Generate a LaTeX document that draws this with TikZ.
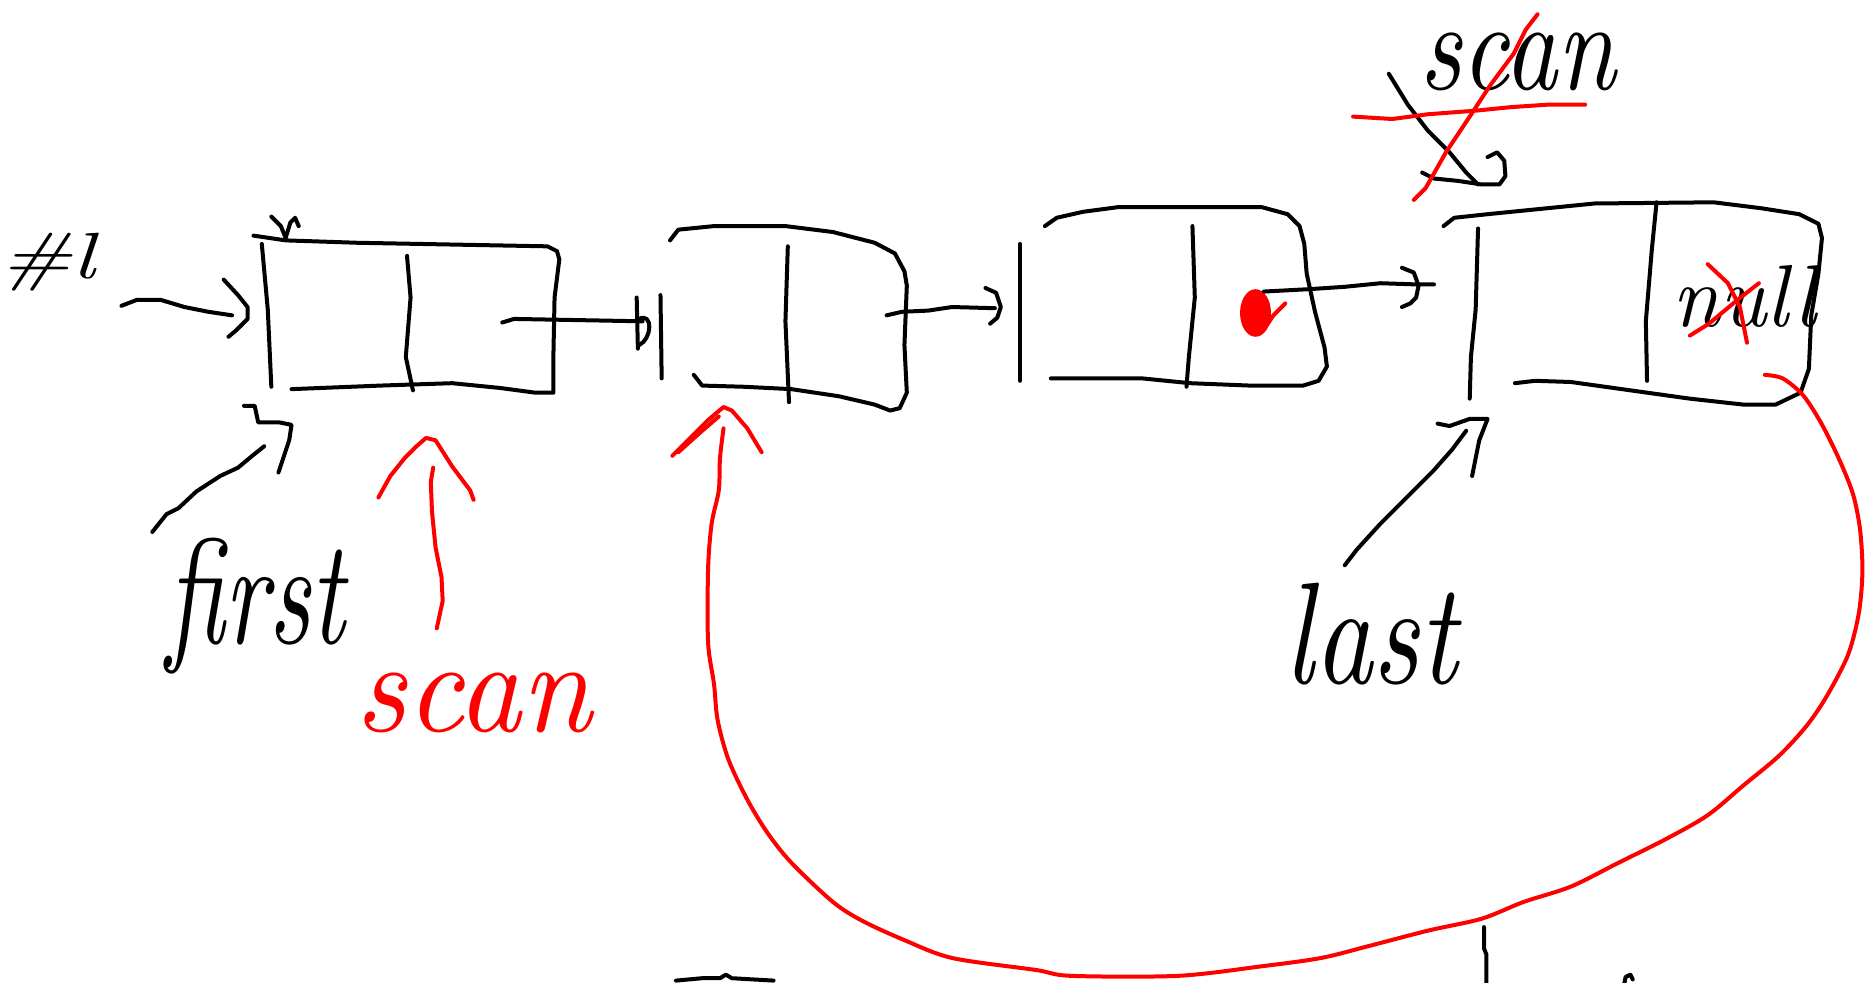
\documentclass[tikz,border=0pt]{standalone}
\usepackage{graphicx}
\tikzset{
  ink/.style={line width=2pt, line cap=round, line join=round},
  redink/.style={ink, draw=red},
  hand/.style={inner sep=0pt, outer sep=0pt},
}
% a word stretched to a given width and total height
\newcommand\handword[3]{\resizebox*{#1}{#2}{\itshape #3}}
\begin{document}
\begin{tikzpicture}[x=0.595pt,y=-0.595pt]
\useasboundingbox (0,0) rectangle (1568,826);

% ---- labels ----
\node[hand] (hl)    at (40,220)   {\handword{47pt}{29pt}{\#l}};
\node[hand] (first) at (215,509)  {\handword{89pt}{68pt}{first}};
\node[hand,text=red] (scanA) at (398,591) {\handword{118pt}{30pt}{scan}};
\node[hand] (scanB) at (1275,52)  {\handword{98pt}{29pt}{scan}};
\node[hand] (last)  at (1152,533) {\handword{86pt}{51pt}{last}};
\node[hand] (nul)   at (1466,249) {\handword{72pt}{31pt}{null}};

% ---- cell 1 ----
\draw[ink] (213,198) -- (240,202) -- (300,204) -- (460,207) -- (468,211) -- (470,218)
  -- (466,250) -- (465,300) -- (465,330) -- (450,330) -- (420,326) -- (380,322)
  -- (320,324) -- (245,327);
\draw[ink] (220,205) -- (225,260) -- (228,325);
\draw[ink] (342,215) -- (345,250) -- (341,300) -- (347,328);
\draw[ink] (228,182) -- (236,190) -- (240,200) -- (244,187) -- (248,183) -- (251,190);

% ---- cell 2 ----
\draw[ink] (555,248) -- (556,318);
\draw[ink] (563,202) -- (570,193) -- (600,190) -- (660,190) -- (700,195) -- (735,204)
  -- (752,213) -- (760,228) -- (762,240) -- (760,290) -- (762,330) -- (756,343)
  -- (748,345) -- (735,340) -- (705,333) -- (665,327) -- (625,325) -- (590,324) -- (583,315);
\draw[ink] (662,207) -- (660,270) -- (663,338);

% ---- cell 3 ----
\draw[ink] (857,205) -- (857,320);
\draw[ink] (878,190) -- (888,183) -- (910,178) -- (940,174) -- (1060,174) -- (1082,180)
  -- (1092,190) -- (1096,205) -- (1098,230) -- (1105,262) -- (1113,292) -- (1115,308)
  -- (1108,320) -- (1095,324) -- (1050,324) -- (1000,322) -- (960,318) -- (883,318);
\draw[ink] (1002,190) -- (1004,250) -- (999,300) -- (997,325);
\fill[red] (1055,263) ellipse (13 and 20);
\draw[redink] (1062,277) -- (1070,265) -- (1080,255);

% ---- cell 4 ----
\draw[ink] (1242,192) -- (1240,260) -- (1236,300) -- (1235,335);
\draw[ink] (1213,190) -- (1222,183) -- (1250,180) -- (1300,175) -- (1340,171) -- (1440,170)
  -- (1480,175) -- (1512,180) -- (1528,188) -- (1531,200) -- (1528,230) -- (1522,265)
  -- (1520,310) -- (1513,330) -- (1492,340) -- (1465,340) -- (1420,335) -- (1370,328)
  -- (1320,321) -- (1290,320) -- (1273,322);
\draw[ink] (1392,170) -- (1388,210) -- (1383,270) -- (1384,320);
\draw[redink] (1435,222) -- (1452,238) -- (1462,258) -- (1468,288);
\draw[redink] (1420,282) -- (1436,272) -- (1460,252) -- (1478,238);

% ---- pointers between cells ----
\coordinate (p1s) at (422,271); \coordinate (p1e) at (540,270);
\draw[ink] (p1s) -- (432,268) -- (p1e);
\draw[ink] (535,250) -- (536,293);
\draw[ink] (537,268) .. controls (549,262) and (548,285) .. (537,290);

\coordinate (p2s) at (745,265); \coordinate (p2e) at (836,259);
\draw[ink] (p2s) -- (758,262) -- (780,261) -- (800,258) -- (p2e);
\draw[ink] (828,242) -- (837,246) -- (841,258) -- (838,267) -- (832,272);

\coordinate (p3s) at (1062,245); \coordinate (p3e) at (1205,239);
\draw[ink] (p3s) -- (1100,243) -- (1130,241) -- (1160,238) -- (1190,239) -- (p3e);
\draw[ink] (1178,225) -- (1188,229) -- (1192,240) -- (1190,250) -- (1185,255) -- (1178,258);

% ---- label arrows ----
\draw[ink] (102,257) -- (115,252) -- (135,252) -- (155,258) -- (175,262) -- (195,265);
\draw[ink] (188,235) -- (200,248) -- (208,258) -- (208,268) -- (198,278) -- (192,283);

\draw[ink] (128,447) -- (140,432) -- (150,427) -- (165,413) -- (185,400) -- (200,393)
  -- (212,383) -- (222,375);
\draw[ink] (205,341) -- (214,341) -- (217,355) -- (235,355) -- (245,357) -- (243,370)
  -- (238,385) -- (234,397);

\draw[ink] (1130,475) -- (1140,462) -- (1160,440) -- (1180,420) -- (1205,395) -- (1220,378)
  -- (1232,362);
\draw[ink] (1208,356) -- (1218,358) -- (1235,352) -- (1250,352) -- (1243,370) -- (1240,385)
  -- (1237,400);

\draw[ink] (1167,62) -- (1183,88) -- (1200,110) -- (1218,128) -- (1232,145) -- (1242,155);
\draw[ink] (1195,145) -- (1205,150) -- (1225,152) -- (1245,155) -- (1260,155) -- (1265,148)
  -- (1264,135) -- (1258,128) -- (1250,132);
\draw[redink] (1137,98) -- (1170,100) -- (1200,96) -- (1240,93) -- (1270,90) -- (1300,88) -- (1332,88);
\draw[redink] (1292,12) -- (1282,25) -- (1272,45) -- (1252,72) -- (1235,98) -- (1215,128)
  -- (1198,158) -- (1188,168);

% ---- red scan arrow ----
\draw[redink] (367,528) -- (372,505) -- (371,485) -- (366,460) -- (363,430) -- (362,405) -- (364,393);
\draw[redink] (318,418) -- (328,400) -- (340,385) -- (350,375) -- (358,368) -- (366,370)
  -- (380,392) -- (395,412) -- (398,420);

% ---- red loop back to cell 2 ----
\coordinate (loopS) at (1483,315); \coordinate (loopE) at (608,360);
\draw[redink] plot[smooth, tension=0.5] coordinates {(1483,315) (1498,318) (1515,332) (1530,355)
  (1545,385) (1557,415) (1563,445) (1565,480) (1562,515) (1553,550) (1535,585) (1518,610)
  (1495,635) (1465,660) (1435,685) (1400,705) (1360,725) (1320,745) (1280,758) (1245,772)
  (1200,782) (1150,795) (1110,805) (1060,812) (990,820) (900,820) (870,815) (800,805)
  (760,790) (725,774) (700,758) (665,725) (645,700) (628,672) (612,638) (603,605)
  (600,575) (595,540) (595,478) (598,440) (604,412) (605,385) (608,360)};
\draw[redink] (565,383) -- (580,368) -- (595,353) -- (608,342) -- (615,345) -- (628,360) -- (640,380);
\draw[redink] (570,380) -- (590,362) -- (604,350);

% ---- fragments along the lower edge ----
\draw[ink] (568,824) -- (590,822) -- (605,822) -- (610,819) -- (615,822) -- (650,824);
\draw[ink] (1247,779) -- (1247,797) -- (1249,802) -- (1249,826);
\draw[ink] (1365,826) -- (1366,821) -- (1370,819) -- (1372,823);
\end{tikzpicture}
\end{document}
